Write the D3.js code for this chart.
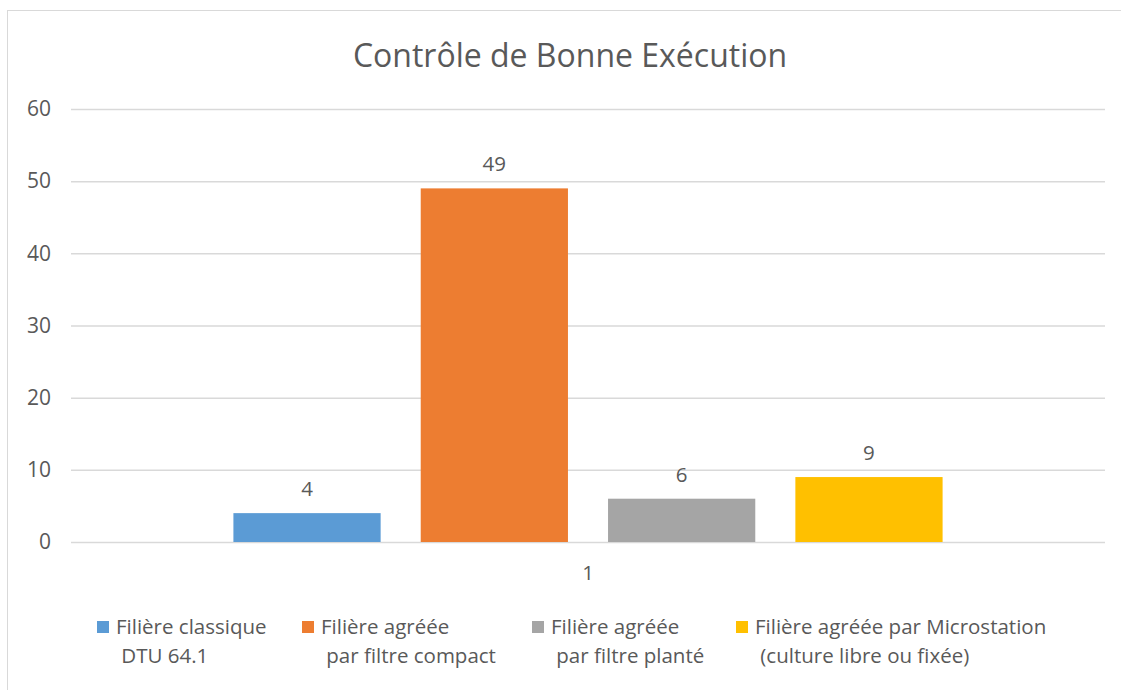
<!DOCTYPE html>
<html>
<head>
  <meta charset="utf-8" />
  <script src="https://d3js.org/d3.v7.min.js"></script>
  <style>
    * { margin: 0; padding: 0; box-sizing: border-box; }
    body { background: #fff; width: 1121px; height: 690px; overflow: hidden; }
    svg { display: block; font-family: "Open Sans", sans-serif; }
  </style>
</head>
<body>
  <svg width="1121" height="690"></svg>

  <script>
    // chart data
    const categories = ["1"];
    const seriesNames = [
      ["Filière classique", " DTU 64.1"],
      ["Filière agréée", " par filtre compact"],
      ["Filière agréée", " par filtre planté"],
      ["Filière agréée par Microstation", " (culture libre ou fixée)"]
    ];
    const seriesValues = [4, 49, 6, 9];
    const seriesColors = ["#5B9BD5", "#ED7D31", "#A5A5A5", "#FFC000"];
    const yTicks = [0, 10, 20, 30, 40, 50, 60];

    const svg = d3.select("svg");
    const textColor = "#595959";
    const fs = 20.5;

    // outer frame
    svg.append("rect")
      .attr("x", 7.5).attr("y", 10.5)
      .attr("width", 1125).attr("height", 700)
      .attr("fill", "none")
      .attr("stroke", "#d9d9d9");

    const plot = { left: 71, right: 1105, top: 109, bottom: 542 };

    const y = d3.scaleLinear().domain([0, 60]).range([plot.bottom, plot.top]);

    const x0 = d3.scaleBand()
      .domain(categories)
      .range([plot.left, plot.right])
      .paddingInner(0)
      .paddingOuter(0.229);

    const x1 = d3.scaleBand()
      .domain(d3.range(seriesValues.length))
      .range([0, x0.bandwidth()])
      .paddingInner(0.214)
      .paddingOuter(0);

    // title
    svg.append("text")
      .attr("x", 570).attr("y", 67)
      .attr("text-anchor", "middle")
      .attr("font-size", 32)
      .attr("fill", textColor)
      .text("Contrôle de Bonne Exécution");

    // gridlines + y labels
    const yAxis = d3.axisLeft(y)
      .tickValues(yTicks)
      .tickSize(-(plot.right - plot.left))
      .tickPadding(20);

    const gy = svg.append("g")
      .attr("transform", `translate(${plot.left},0)`)
      .call(yAxis);
    gy.select(".domain").remove();
    gy.selectAll(".tick line").attr("stroke", "#d9d9d9").attr("stroke-width", 1.5);
    gy.selectAll(".tick text")
      .attr("fill", textColor)
      .attr("font-size", 21)
      .attr("font-family", "Open Sans, sans-serif");

    // bars
    const group = svg.append("g")
      .attr("transform", `translate(${x0(categories[0])},0)`);

    group.selectAll("rect")
      .data(seriesValues)
      .join("rect")
      .attr("x", (d, i) => x1(i))
      .attr("y", d => y(d))
      .attr("width", x1.bandwidth())
      .attr("height", d => y(0) - y(d))
      .attr("fill", (d, i) => seriesColors[i]);

    // value labels
    group.selectAll("text.val")
      .data(seriesValues)
      .join("text")
      .attr("class", "val")
      .attr("x", (d, i) => x1(i) + x1.bandwidth() / 2)
      .attr("y", d => y(d) - 17)
      .attr("text-anchor", "middle")
      .attr("font-size", fs)
      .attr("fill", textColor)
      .text(d => d);

    // category label
    svg.append("text")
      .attr("x", x0(categories[0]) + x0.bandwidth() / 2)
      .attr("y", 580)
      .attr("text-anchor", "middle")
      .attr("font-size", fs)
      .attr("fill", textColor)
      .text(categories[0]);

    // legend
    const legendX = [97, 302, 532, 736];
    const legend = svg.append("g");
    seriesNames.forEach((lines, i) => {
      const g = legend.append("g").attr("transform", `translate(${legendX[i]},0)`);
      g.append("rect")
        .attr("x", 0).attr("y", 621)
        .attr("width", 12).attr("height", 12)
        .attr("fill", seriesColors[i]);
      const t = g.append("text")
        .attr("font-size", fs)
        .attr("fill", textColor)
        .attr("xml:space", "preserve");
      lines.forEach((line, j) => {
        t.append("tspan")
          .attr("x", 19)
          .attr("y", 634 + j * 29)
          .text(line);
      });
    });
  </script>
</body>
</html>
